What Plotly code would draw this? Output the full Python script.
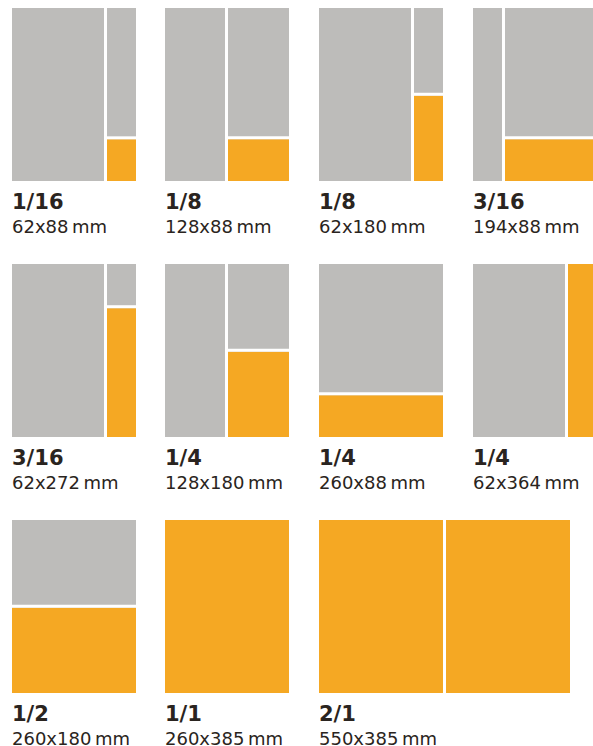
import plotly.graph_objects as go

# ---- data ----
fractions = ["1/16", "1/8", "1/8", "3/16", "3/16", "1/4", "1/4", "1/4", "1/2", "1/1", "2/1"]
ad_width_mm = [62, 128, 62, 194, 62, 128, 260, 62, 260, 260, 550]
ad_height_mm = [88, 88, 180, 88, 272, 180, 88, 364, 180, 385, 385]
page_width_mm = 260
page_height_mm = 385
size_labels = [f"{w}x{h}\u2009mm" for w, h in zip(ad_width_mm, ad_height_mm)]

# ---- layout / style ----
W, H = 593, 746
GRAY = "#bdbcba"
ORANGE = "#f5a823"
TEXT = "#2a2420"
col_x = [12, 165, 319, 473]
row_y = [8, 264, 520]
PW, PH = 124, 173          # drawn page size (px)
SCALE = 0.4735             # px per mm for ad blocks
GAP = 3
TEXT_DX = -2

fig = go.Figure()
shapes = []
annotations = []


def rect(x0, y0, x1, y1, color):
    shapes.append(dict(type="rect", xref="x", yref="y", x0=x0, y0=y0, x1=x1, y1=y1,
                       fillcolor=color, line=dict(width=0), layer="above"))


for i, (frac, wmm, hmm, lab) in enumerate(zip(fractions, ad_width_mm, ad_height_mm, size_labels)):
    r, c = divmod(i, 4)
    px, py = col_x[c], row_y[r]
    npages = 2 if wmm > page_width_mm else 1
    if npages == 2:
        total_w = 2 * PW + GAP
        rect(px, py, px + total_w, py + PH, ORANGE)
        rect(px + PW, py, px + PW + GAP, py + PH, "white")
    else:
        rect(px, py, px + PW, py + PH, GRAY)
        aw = PW if wmm >= page_width_mm else round(wmm * SCALE)
        ah = PH if hmm >= 364 else hmm * SCALE
        ax0 = px + PW - aw
        ay0 = py + PH - ah
        rect(ax0, ay0, px + PW, py + PH, ORANGE)
        if aw < PW:
            rect(ax0 - GAP, py, ax0, py + PH, "white")
        if ah < PH:
            rect(ax0, ay0 - GAP, px + PW, ay0, "white")
    annotations.append(dict(x=px + TEXT_DX, y=py + 194, xref="x", yref="y", text=f"<b>{frac}</b>",
                            showarrow=False, xanchor="left", yanchor="middle",
                            font=dict(family="DejaVu Sans", size=21, color=TEXT)))
    annotations.append(dict(x=px + TEXT_DX, y=py + 218, xref="x", yref="y", text=lab,
                            showarrow=False, xanchor="left", yanchor="middle",
                            font=dict(family="DejaVu Sans", size=18, color=TEXT)))

fig.update_layout(
    width=W, height=H,
    margin=dict(l=0, r=0, t=0, b=0),
    paper_bgcolor="white", plot_bgcolor="white",
    xaxis=dict(range=[0, W], visible=False, fixedrange=True),
    yaxis=dict(range=[H, 0], visible=False, fixedrange=True),
    shapes=shapes,
    annotations=annotations,
    showlegend=False,
)

fig.write_html("out.html", config={"displayModeBar": False},
               post_script="document.body.style.margin='0';document.body.style.overflow='hidden';")
